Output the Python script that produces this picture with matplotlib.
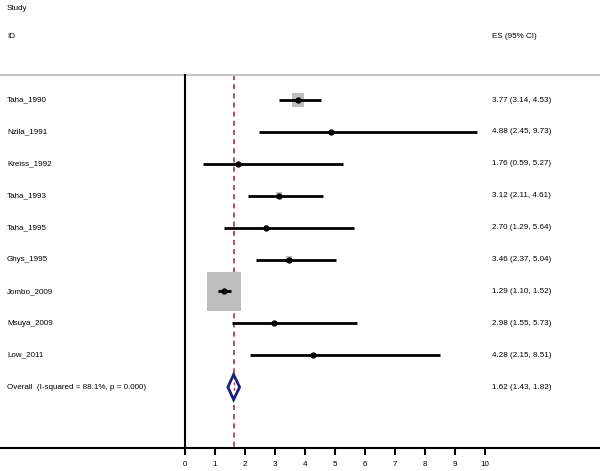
import matplotlib.pyplot as plt
from matplotlib.patches import Rectangle, Polygon

# ----------------------------
# Data
# ----------------------------
studies = ["Taha_1990", "Nzila_1991", "Kreiss_1992", "Taha_1993", "Taha_1995",
           "Ghys_1995", "Jombo_2009", "Msuya_2009", "Low_2011"]
es = [3.77, 4.88, 1.76, 3.12, 2.70, 3.46, 1.29, 2.98, 4.28]
lo = [3.14, 2.45, 0.59, 2.11, 1.29, 2.37, 1.10, 1.55, 2.15]
hi = [4.53, 9.73, 5.27, 4.61, 5.64, 5.04, 1.52, 5.73, 8.51]
weights = [9.9, 1.0, 1.1, 2.5, 1.1, 2.5, 79.6, 1.2, 1.1]   # % (geschat)

overall = [1.62, 1.43, 1.82]
overall_label = "Overall  (I-squared = 88.1%, p = 0.000)"

xticks = list(range(0, 11))

# ----------------------------
# Plot
# ----------------------------
plt.rcParams['font.family'] = ['Liberation Sans', 'DejaVu Sans']
fig = plt.figure(figsize=(6, 4.71), dpi=100)
H = 471.0
ax = fig.add_axes([0, (H - 448) / H, 1, 448 / H])
ax.set_xlim(-185 / 30, 415 / 30)
ax.set_ylim(448, 0)

fs = 5.8
row_y = [100 + 31.9 * i for i in range(len(studies))]
y_overall = 100 + 31.9 * len(studies)

# headers
ax.text(-5.93, 8, "Study", fontsize=fs, va="center")
ax.text(-5.93, 37, "ID", fontsize=fs, va="center")
ax.text(10.23, 37, "ES (95% CI)", fontsize=fs, va="center")
ax.axhline(75, color="#c4c4c4", lw=1.5)

# verticale lijnen
ax.plot([0, 0], [75, 448], color="black", lw=1.5)
ax.plot([overall[0], overall[0]], [75, 448], color="#a5353f", lw=1.2,
        ls=(0, (3, 2.5)), zorder=1)

for name, e, l, h, w, y in zip(studies, es, lo, hi, weights, row_y):
    s = 34 * (w / max(weights)) ** 0.5 / 30
    hgt = s * 30 * 1.15
    ax.add_patch(Rectangle((e - s / 2, y - hgt / 2), s, hgt,
                           facecolor="#bebebe", edgecolor="none", zorder=2))
    ax.plot([l, h], [y, y], color="black", lw=2, zorder=3, solid_capstyle="butt")
    ax.plot(e, y, "o", color="black", ms=3.5, zorder=4)
    ax.text(-5.93, y, name, fontsize=fs, va="center")
    ax.text(10.23, y, "%.2f (%.2f, %.2f)" % (e, l, h), fontsize=fs, va="center")

# overall diamond
d = Polygon([(overall[1], y_overall), (overall[0], y_overall - 12.5),
             (overall[2], y_overall), (overall[0], y_overall + 12.5)],
            closed=True, facecolor="white", edgecolor="#1b1f7a", lw=2, zorder=3)
ax.add_patch(d)
ax.plot([overall[0], overall[0]], [y_overall - 5, y_overall + 5],
        color="#a5353f", lw=1.0, ls=(0, (2, 2)), zorder=4)
ax.text(-5.93, y_overall, overall_label, fontsize=fs, va="center")
ax.text(10.23, y_overall, "%.2f (%.2f, %.2f)" % tuple(overall), fontsize=fs, va="center")

# x-as
for sp in ["top", "left", "right"]:
    ax.spines[sp].set_visible(False)
ax.spines["bottom"].set_linewidth(1.5)
ax.set_xticks(xticks)
ax.set_xticklabels([str(t) for t in xticks], fontsize=fs)
ax.tick_params(axis="x", length=5, width=1.5, pad=4)
ax.set_yticks([])

fig.savefig("out.png", dpi=100)
